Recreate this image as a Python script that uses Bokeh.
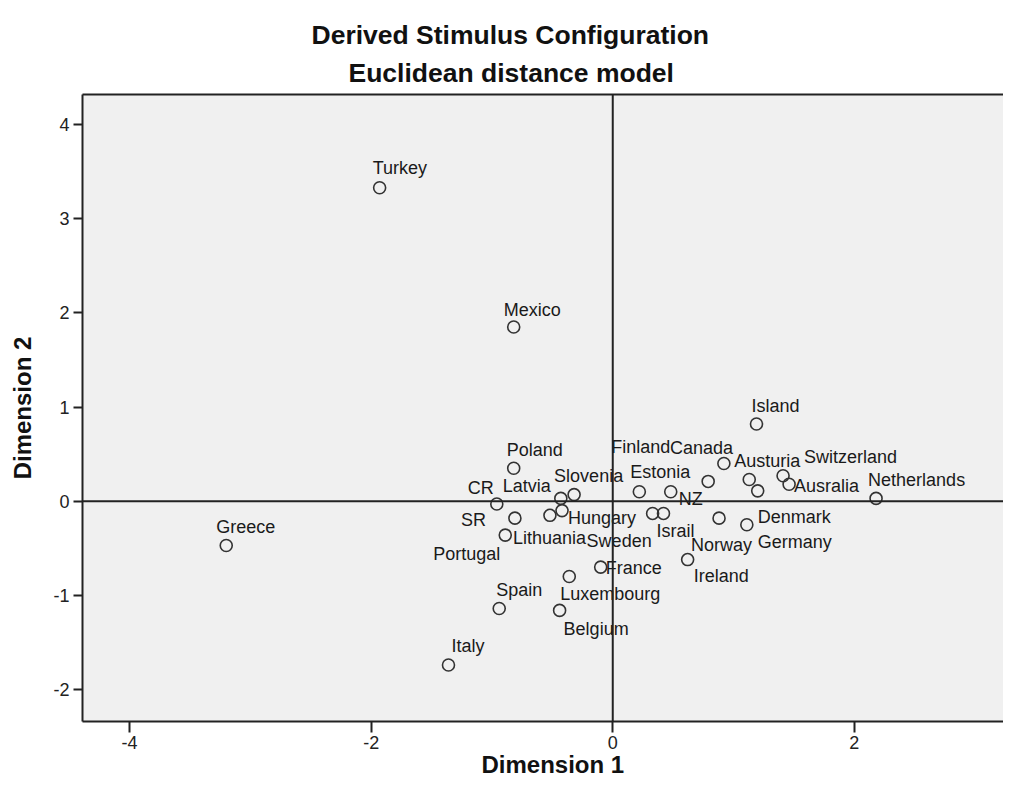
from bokeh.plotting import figure
from bokeh.models import Span, Title, LinearAxis, FixedTicker, Range1d, ColumnDataSource
from bokeh.embed import file_html
from bokeh.resources import INLINE
from bokeh.core.properties import value

# ---- data ----
countries = ["Turkey", "Mexico", "Greece", "Italy", "Island", "Netherlands",
             "Poland", "CR", "Latvia", "Slovenia", "SR", "Portugal", "Lithuania",
             "Hungary", "France", "Luxembourg", "Spain", "Belgium", "Estonia", "NZ",
             "Sweden", "Israil", "Ireland", "Canada", "Finland", "Austuria",
             "Denmark", "Switzerland", "Ausralia", "Norway", "Germany"]
dim1 = [-1.93, -0.82, -3.20, -1.36, 1.19, 2.18,
        -0.82, -0.96, -0.43, -0.32, -0.81, -0.89, -0.52,
        -0.42, -0.10, -0.36, -0.94, -0.44, 0.22, 0.48,
        0.33, 0.42, 0.62, 0.92, 0.79, 1.13,
        1.20, 1.41, 1.46, 0.88, 1.11]
dim2 = [3.33, 1.85, -0.47, -1.74, 0.82, 0.03,
        0.35, -0.03, 0.03, 0.07, -0.18, -0.36, -0.15,
        -0.10, -0.70, -0.80, -1.14, -1.16, 0.10, 0.10,
        -0.13, -0.13, -0.62, 0.40, 0.21, 0.23,
        0.11, 0.27, 0.18, -0.18, -0.25]
x_ticks = [-4, -2, 0, 2]
y_ticks = [-2, -1, 0, 1, 2, 3, 4]

# label placement (screen px, relative to the point; left edge / cap centre)
label_dx = [-7, -10, -10, 3, -5, -8,
            -7, -29, -58, -20, -54, -72, -37,
            6, 5, -9, -3, 4, -9, 8,
            -66, -7, 6, -54, -97, -15,
            0, 21, 5, -28, 11]
label_dy = [-20, -18, -19, -20, -19, -19,
            -19, -17, -13, -19, 1, 18, 22,
            7, 0, 17, -19, 18, -20, 7,
            27, 17, 16, -16, -35, -19,
            26, -19, 1, 26, 17]
FONT = "Liberation Sans"
LABEL_SIZE = 18
label_dy_base = [d + 0.5 for d in label_dy]

src = ColumnDataSource(dict(x=dim1, y=dim2, name=countries, dx=label_dx, dy=label_dy_base))

p = figure(width=1003, height=790, x_range=Range1d(-4.39, 3.235), y_range=Range1d(-2.34, 4.32),
           output_backend="svg", toolbar_location=None, title=None,
           min_border_left=82, min_border_right=0, min_border_top=94, min_border_bottom=69)
p.background_fill_color = "#F0F0F0"
p.border_fill_color = "white"
p.outline_line_color = None
p.grid.visible = False

for ax in (p.xaxis[0], p.yaxis[0]):
    ax.axis_line_color = "#222222"
    ax.axis_line_width = 2
    ax.major_tick_line_color = "#222222"
    ax.major_tick_line_width = 2
    ax.major_tick_in = 0
    ax.minor_tick_line_color = None
    ax.major_label_text_font = FONT
    ax.major_label_text_font_size = "18px"
    ax.major_label_text_color = "#222222"
    ax.axis_label_text_font = FONT
    ax.axis_label_text_font_size = "24px"
    ax.axis_label_text_font_style = "bold"
    ax.axis_label_text_color = "#111111"

p.xaxis[0].ticker = FixedTicker(ticks=x_ticks)
p.yaxis[0].ticker = FixedTicker(ticks=y_ticks)
p.xaxis[0].major_label_overrides = {t: str(t) for t in x_ticks}
p.yaxis[0].major_label_overrides = {t: str(t) for t in y_ticks}
p.xaxis[0].major_tick_out = 11
p.yaxis[0].major_tick_out = 9
p.xaxis[0].major_label_standoff = 3
p.yaxis[0].major_label_standoff = 4
p.yaxis[0].axis_label = "Dimension 2"
p.yaxis[0].axis_label_standoff = 14

top = LinearAxis(ticker=FixedTicker(ticks=[]), axis_line_color="#222222", axis_line_width=2,
                 major_label_text_font_size="0px", minor_tick_line_color=None,
                 major_tick_line_color=None)
p.add_layout(top, "above")
p.add_layout(Title(text="Euclidean distance model", align="left", offset=266, standoff=14,
                   text_font=FONT, text_font_size="26.5px", text_font_style="bold",
                   text_color="#111111"), "above")
p.add_layout(Title(text="Derived Stimulus Configuration", align="left", offset=229, standoff=-3,
                   text_font=FONT, text_font_size="26.5px", text_font_style="bold",
                   text_color="#111111"), "above")
p.add_layout(Title(text="Dimension 1", align="left", offset=399, standoff=-5,
                   text_font=FONT, text_font_size="24px", text_font_style="bold",
                   text_color="#111111"), "below")

p.add_layout(Span(location=0, dimension="width", line_color="#222222", line_width=2))
p.add_layout(Span(location=0, dimension="height", line_color="#222222", line_width=2))

p.scatter("x", "y", source=src, size=12, marker="circle", fill_color=None,
          line_color="#333333", line_width=1.6)
p.text("x", "y", text="name", source=src, x_offset="dx", y_offset="dy",
       text_font=value(FONT), text_font_size=f"{LABEL_SIZE}px", text_color="#1a1a1a",
       text_align="left", text_baseline="alphabetic")

open("out.html", "w").write(file_html(p, INLINE))
